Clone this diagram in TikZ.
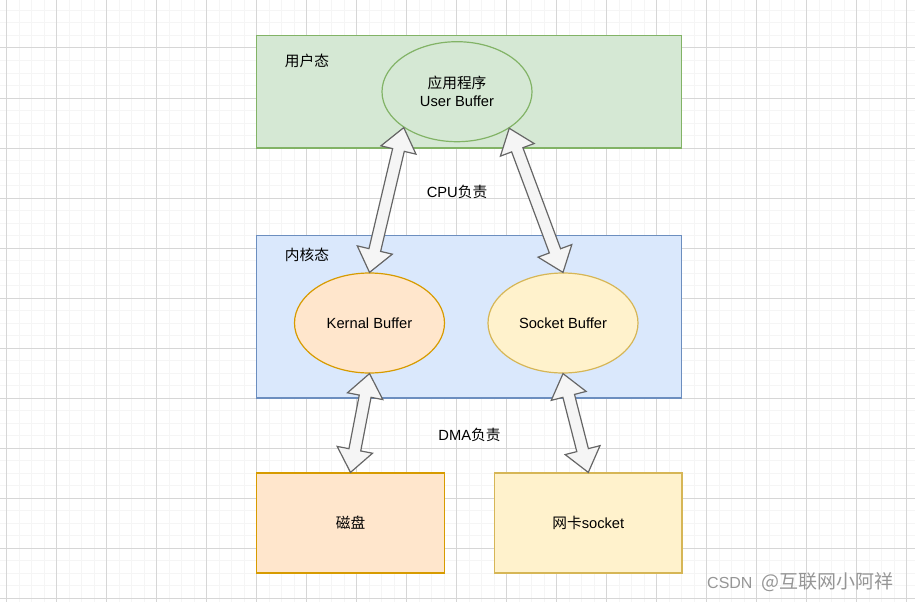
\documentclass[tikz,border=0pt]{standalone}
\usepackage{fontspec}
\setmainfont{Liberation Sans}
\newfontfamily\cjk{Noto Sans CJK SC}
\usetikzlibrary{shapes.geometric, calc}

\definecolor{greenfill}{HTML}{D5E8D4}
\definecolor{greenline}{HTML}{82B366}
\definecolor{bluefill}{HTML}{DAE8FC}
\definecolor{blueline}{HTML}{6C8EBF}
\definecolor{orangefill}{HTML}{FFE6CC}
\definecolor{orangeline}{HTML}{D79B00}
\definecolor{yellowfill}{HTML}{FFF2CC}
\definecolor{yellowline}{HTML}{D6B656}
\definecolor{arrowfill}{HTML}{F5F5F5}
\definecolor{arrowline}{HTML}{666666}

% two-headed block arrow between two points
\newcommand\flexarrow[2]{%
  \coordinate (fa) at ($(#1)!23pt!(#2)$);
  \coordinate (fb) at ($(#2)!23pt!(#1)$);
  \filldraw[flexarrow] (#1) -- ($(fa)!18pt!90:(#2)$) -- ($(fa)!6pt!90:(#2)$)
    -- ($(fb)!6pt!-90:(#1)$) -- ($(fb)!18pt!-90:(#1)$) -- (#2)
    -- ($(fb)!18pt!90:(#1)$) -- ($(fb)!6pt!90:(#1)$)
    -- ($(fa)!6pt!-90:(#2)$) -- ($(fa)!18pt!-90:(#2)$) -- cycle;}

\begin{document}
\begin{tikzpicture}[x=1pt, y=-1pt,
    font=\fontsize{14.7}{18}\selectfont,
    minorgrid/.style={draw={rgb,255:red,245;green,245;blue,245}, line width=1pt},
    majorgrid/.style={draw={rgb,255:red,214;green,214;blue,214}, line width=1pt},
    layer/.style={draw, line width=1.2pt, minimum width=425pt, inner sep=0pt},
    buffer/.style={ellipse, draw, line width=1.2pt, minimum width=150pt,
      minimum height=100pt, inner sep=0pt, align=center},
    device/.style={draw, line width=1.2pt, minimum width=187.5pt,
      minimum height=100pt, inner sep=0pt},
    flexarrow/.style={draw=arrowline, fill=arrowfill, line width=1.2pt, line join=miter}]
  \useasboundingbox[fill=white] (0,0) rectangle (915,602);
  % Background grid
  \foreach \k in {0,...,72} \draw[minorgrid] ({6.7+12.5*\k},0) -- ++(0,602);
  \foreach \k in {0,...,49} \draw[minorgrid] (0,{-2+12.5*\k}) -- ++(915,0);
  \foreach \k in {0,...,18} \draw[majorgrid] ({6.7+50*\k},0) -- ++(0,602);
  \foreach \k in {0,...,12} \draw[majorgrid] (0,{-2+50*\k}) -- ++(915,0);
  % User space
  \node[layer, minimum height=112.5pt, fill=greenfill, draw=greenline] (userlayer) at (469.2,91.7) {};
  \node (userlabel) at (307,61) {\cjk 用户态};
  \node[buffer, fill=greenfill, draw=greenline] (user) at (457,91.7) {{\cjk 应用程序}\\User Buffer};
  % Kernel space
  \node[layer, minimum height=162.5pt, fill=bluefill, draw=blueline] (kernellayer) at (469.2,316.7) {};
  \node (kernellabel) at (307,255) {\cjk 内核态};
  \node[buffer, fill=orangefill, draw=orangeline] (kernel) at (369.5,323) {Kernal Buffer};
  \node[buffer, fill=yellowfill, draw=yellowline] (socket) at (563,323) {Socket Buffer};
  % Devices
  \node[device, fill=orangefill, draw=orangeline] (disk) at (350.5,523) {\cjk 磁盘};
  \node[device, fill=yellowfill, draw=yellowline] (nic) at (588.3,523) {{\cjk 网卡}socket};
  % Copies
  \flexarrow{user.214}{kernel.north}
  \flexarrow{user.325}{socket.north}
  \flexarrow{kernel.south}{disk.north}
  \flexarrow{socket.south}{nic.north}
  \node (cpu) at (457,192) {CPU{\cjk 负责}};
  \node (dma) at (469.5,435) {DMA{\cjk 负责}};
  % Watermark
  \node[anchor=west, text={rgb,255:red,150;green,150;blue,150}, inner sep=0pt] (mark) at (707,582)
    {\fontsize{16}{16}\selectfont CSDN\hspace{9pt}{\cjk\fontsize{19}{19}\selectfont @互联网小阿祥}};
\end{tikzpicture}
\end{document}
